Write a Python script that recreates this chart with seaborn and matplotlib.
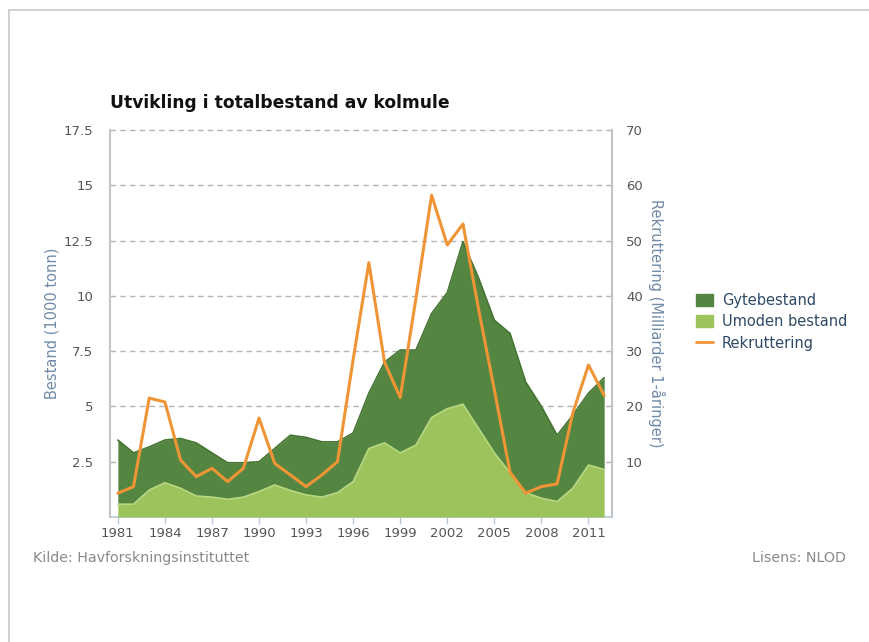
import matplotlib
matplotlib.use("Agg")
import matplotlib.pyplot as plt
import seaborn as sns
import pandas as pd
from matplotlib.patches import Patch
from matplotlib.lines import Line2D

years = list(range(1981, 2013))
umoden = [0.58, 0.58, 1.22, 1.55, 1.30, 0.95, 0.90, 0.80, 0.90, 1.15, 1.45, 1.20, 1.00, 0.90, 1.10, 1.60,
          3.10, 3.35, 2.90, 3.25, 4.50, 4.90, 5.10, 4.00, 2.90, 2.00, 1.10, 0.85, 0.70, 1.30, 2.35, 2.15]
gytebestand = [2.90, 2.32, 1.95, 1.93, 2.25, 2.40, 2.00, 1.65, 1.55, 1.35, 1.65, 2.50, 2.60, 2.50, 2.30, 2.20,
               2.50, 3.65, 4.65, 4.30, 4.70, 5.25, 7.35, 6.80, 6.00, 6.30, 5.00, 4.15, 3.00, 3.30, 3.25, 4.15]
rekruttering = [4.3, 5.5, 21.5, 20.8, 10.3, 7.3, 8.8, 6.4, 8.8, 17.9, 9.7, 7.6, 5.5, 7.6, 10.0, 28.5,
                46.0, 28.0, 21.6, 39.5, 58.2, 49.2, 53.0, 37.5, 23.0, 8.1, 4.3, 5.5, 6.0, 18.8, 27.5, 22.0]
xticks = list(range(1981, 2012, 3))
left_ticks = [2.5, 5, 7.5, 10, 12.5, 15, 17.5]
left_labels = ["2.5", "5", "7.5", "10", "12.5", "15", "17.5"]
right_ticks = [10, 20, 30, 40, 50, 60, 70]

sns.set_theme(style="white")
plt.rcParams['font.family'] = ['DejaVu Sans']

df = pd.DataFrame({"year": years, "umoden": umoden, "gyte": gytebestand, "rekr": rekruttering})
df["total"] = df["umoden"] + df["gyte"]

c_dark = "#548541"
c_dark_edge = "#467534"
c_light = "#9cc35c"
c_light_edge = "#b7d880"
c_orange = "#ef9536"
c_tick = "#555555"
c_axlabel = "#6f8aa8"

fig = plt.figure(figsize=(8.7, 6.42), dpi=100)
ax = fig.add_axes([110/870, 1-517/642, (612-110)/870, (517-130)/642])

# grid
for v in [2.5, 5, 7.5, 10, 12.5, 15]:
    ax.axhline(v, color="#b5b5b5", lw=1.0, ls=(0, (4, 3)), zorder=1)

ax.fill_between(df["year"], df["umoden"], df["total"], color=c_dark, lw=0, zorder=2)
ax.plot(df["year"], df["total"], color=c_dark_edge, lw=1.2, zorder=2.1)
ax.fill_between(df["year"], 0, df["umoden"], color=c_light, lw=0, zorder=3)
ax.plot(df["year"], df["umoden"], color=c_light_edge, lw=1.2, zorder=3.1)

ax.set_xlim(1980.5, 2012.5)
ax.set_ylim(0, 17.5)
ax.set_yticks(left_ticks)
ax.set_yticklabels(left_labels)
ax.set_xticks(xticks)
ax.set_xticklabels([str(y) for y in xticks])
ax.tick_params(axis="y", length=0, pad=12, labelsize=9.5, labelcolor=c_tick)
ax.tick_params(axis="x", length=5, width=1, color="#b8c8dc", direction="out", pad=2,
               labelsize=9.5, labelcolor=c_tick, bottom=True)
for s in ["left", "right"]:
    ax.spines[s].set_color("#c4c4c4")
    ax.spines[s].set_linewidth(1.5)
ax.spines["top"].set_visible(False)
ax.axhline(17.5, color="#b5b5b5", lw=1.0, ls=(0, (4, 3)), zorder=1, clip_on=False)
ax.spines["bottom"].set_color("#b8c8dc")
ax.spines["bottom"].set_linewidth(1.2)
ax.set_xlabel("")
ax.set_ylabel("Bestand (1000 tonn)", color=c_axlabel, fontsize=10.5, labelpad=3)

ax2 = ax.twinx()
sns.lineplot(data=df, x="year", y="rekr", ax=ax2, color=c_orange, lw=2.2, zorder=5)
ax2.set_ylim(0, 70)
ax2.set_yticks(right_ticks)
ax2.tick_params(axis="y", length=0, pad=10, labelsize=9.5, labelcolor=c_tick)
ax2.set_xlim(1980.5, 2012.5)
for s in ["left", "right", "top", "bottom"]:
    ax2.spines[s].set_visible(False)
ax2.set_ylabel("Rekruttering (Milliarder 1-åringer)", color=c_axlabel, fontsize=10.5,
               rotation=270, labelpad=16)
ax2.set_xlabel("")

fig.text(110/870, 1-103/642, "Utvikling i totalbestand av kolmule", fontsize=12.3, fontweight="bold",
         color="#111111", ha="left", va="center")

handles = [Patch(facecolor=c_dark, edgecolor=c_dark),
           Patch(facecolor=c_light, edgecolor=c_light),
           Line2D([0], [0], color=c_orange, lw=2)]
fig.legend(handles, ["Gytebestand", "Umoden bestand", "Rekruttering"],
           loc="upper left", bbox_to_anchor=(690/870, 1-287/642), frameon=False,
           fontsize=10.5, labelcolor="#2f4a66", handlelength=1.2, handleheight=0.9,
           handletextpad=0.6, labelspacing=0.45, borderaxespad=0)

fig.text(33/870, 1-558/642, "Kilde: Havforskningsinstituttet", fontsize=10.3, color="#8a8a8a",
         ha="left", va="center")
fig.text(846/870, 1-558/642, "Lisens: NLOD", fontsize=10.3, color="#8a8a8a", ha="right", va="center")

# outer frame
fig.add_artist(Line2D([9/870, 1], [1-10/642, 1-10/642], color="#c8c8c8", lw=1.2, transform=fig.transFigure))
fig.add_artist(Line2D([9/870, 9/870], [0, 1-10/642], color="#c8c8c8", lw=1.2, transform=fig.transFigure))

fig.savefig("out.png", dpi=100)
